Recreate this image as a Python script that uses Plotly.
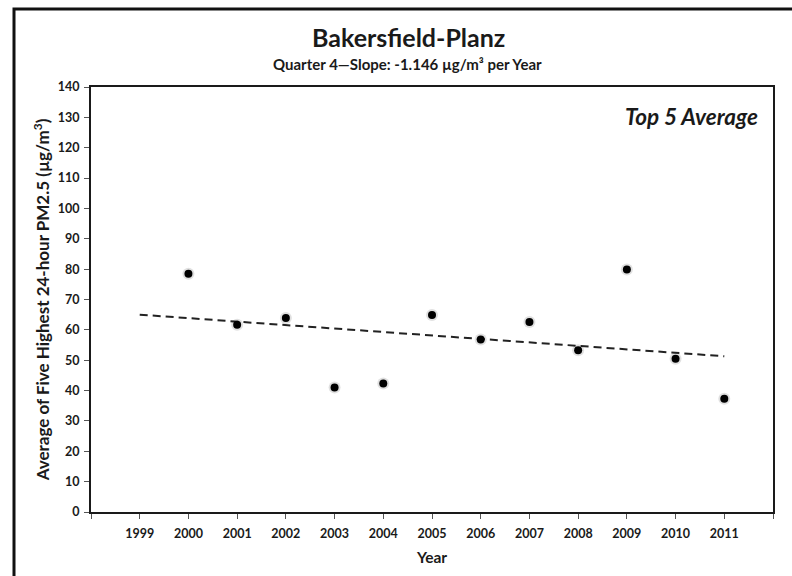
import plotly.graph_objects as go

years = [2000, 2001, 2002, 2003, 2004, 2005, 2006, 2007, 2008, 2009, 2010, 2011]
top5_avg = [78.5, 61.7, 63.9, 41.0, 42.3, 64.9, 56.8, 62.6, 53.3, 79.9, 50.5, 37.3]

trend_years = [1999, 2011]
trend_values = [65.0, 51.3]

x_tick_vals = list(range(1999, 2012))
x_tick_text = [str(y) for y in x_tick_vals]
x_edge_ticks = [1998, 2012]
y_tick_vals = list(range(0, 141, 10))

title_text = "Bakersfield-Planz"
subtitle_text = "Quarter 4\u2014Slope: -1.146 \u00b5g/m\u00b3 per Year"
y_title = "Average of Five Highest 24-hour PM2.5 (\u00b5g/m<sup>3</sup>)"
x_title = "Year"
corner_label = "Top 5 Average"

FONT = "Lato, Carlito, Calibri, 'Open Sans', sans-serif"

L, R, T, B = 91, 773, 87, 512
PW, PH = R - L, B - T

def px(x):
    return (x - L) / PW

def py(y):
    return (B - y) / PH

fig = go.Figure()
fig.add_trace(go.Scatter(
    x=trend_years, y=trend_values, mode="lines",
    line=dict(color="#222222", width=2, dash="8px,5px"),
    hoverinfo="skip", showlegend=False,
))
fig.add_trace(go.Scatter(
    x=years, y=top5_avg, mode="markers",
    marker=dict(color="rgba(0,0,0,0.12)", size=12, line=dict(width=0)),
    hoverinfo="skip", showlegend=False,
))
fig.add_trace(go.Scatter(
    x=years, y=top5_avg, mode="markers",
    marker=dict(color="black", size=8, line=dict(width=0)),
    showlegend=False,
))

fig.update_layout(
    width=792, height=576,
    margin=dict(l=L, r=792 - R, t=T, b=576 - B, autoexpand=False),
    paper_bgcolor="white", plot_bgcolor="white",
    font=dict(family=FONT, color="#1a1a1a"),
    showlegend=False,
    xaxis=dict(
        range=[1998, 2012], tickvals=x_tick_vals, ticktext=x_tick_text,
        showgrid=False, zeroline=False, automargin=False,
        showline=True, linecolor="#1a1a1a", linewidth=2, mirror=True,
        ticks="outside", ticklen=5, tickcolor="#555555", tickwidth=1,
        minor=dict(tickvals=x_edge_ticks, ticks="outside", ticklen=5,
                   tickcolor="#555555", tickwidth=1, showgrid=False),
        ticklabelstandoff=4,
        tickfont=dict(family=FONT, size=12.5, color="#1a1a1a", weight="bold"),
        title=dict(text=x_title, font=dict(family=FONT, size=15.5, weight="bold"), standoff=12),
    ),
    yaxis=dict(
        range=[0, 140], tickvals=y_tick_vals,
        showgrid=False, zeroline=False, automargin=False,
        showline=True, linecolor="#1a1a1a", linewidth=2, mirror=True,
        ticks="outside", ticklen=5, tickcolor="#555555", tickwidth=1,
        ticklabelstandoff=2,
        tickfont=dict(family=FONT, size=12.5, color="#1a1a1a", weight="bold"),
        title=dict(text=y_title, font=dict(family=FONT, size=17, weight="bold"), standoff=4),
    ),
)

# outer frame
fig.add_shape(type="rect", xref="paper", yref="paper",
              x0=px(14), x1=px(800), y0=py(590), y1=py(9),
              line=dict(color="#111111", width=3), fillcolor="rgba(0,0,0,0)", layer="below")

fig.add_annotation(text=title_text, xref="paper", yref="paper",
                   x=px(408), y=py(37), xanchor="center", yanchor="middle",
                   showarrow=False, font=dict(family=FONT, size=25, weight="bold", color="#1a1a1a"))
fig.add_annotation(text=subtitle_text, xref="paper", yref="paper",
                   x=px(407), y=py(64), xanchor="center", yanchor="middle",
                   showarrow=False, font=dict(family=FONT, size=15, weight="bold", color="#1a1a1a"))
fig.add_annotation(text="<b><i>" + corner_label + "</i></b>", xref="paper", yref="paper",
                   x=px(760), y=py(116), xanchor="right", yanchor="middle",
                   showarrow=False, font=dict(family=FONT, size=22.5, color="#1a1a1a"))

fig.write_html("out.html", config={"displayModeBar": False},
               post_script="document.body.style.margin='0';document.body.style.padding='0';")
